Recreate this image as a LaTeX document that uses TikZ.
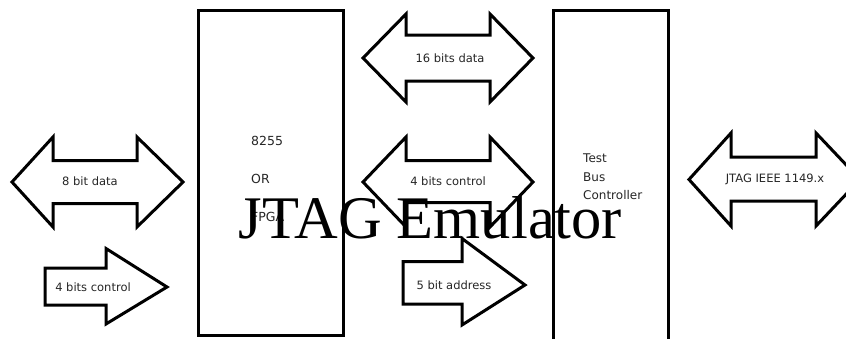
\documentclass[tikz,border=0pt]{standalone}
\usepackage{fontspec}
\setmainfont{DejaVu Sans}
\newfontfamily\bigserif{Liberation Serif}
\begin{document}
\begin{tikzpicture}[x=1pt,y=-1pt,
  box/.style={draw=black,line width=3pt},
  blockarrow/.style={draw=black,line width=3pt,line join=miter,fill=white},
  lbl/.style={inner sep=0pt,text=black!85,font=\fontsize{11.5}{14}\selectfont},
  boxtxt/.style={inner sep=0pt,anchor=west,text=black!85,font=\fontsize{12.5}{15}\selectfont},
  bigtxt/.style={inner sep=0pt,anchor=base,text=black,font=\bigserif\fontsize{60.5}{61}\selectfont}]
\useasboundingbox (0,0) rectangle (846,338);
\clip (0,0) rectangle (846,338);
\fill[white] (0,0) rectangle (846,338);
% boxes
\draw[box] (198.5,10) rectangle (343.5,335);
\draw[box] (553.3,345) -- (553.3,10) -- (668.7,10) -- (668.7,345);
% double arrows
\draw[blockarrow] (12,182) -- (53,137) -- (53,160.5) -- (137,160.5) -- (137,137) -- (183,182) -- (137,227) -- (137,203.5) -- (53,203.5) -- (53,227) -- cycle;
\draw[blockarrow] (363,58) -- (406,14) -- (406,35) -- (490,35) -- (490,14) -- (533,58) -- (490,102) -- (490,81) -- (406,81) -- (406,102) -- cycle;
\draw[blockarrow] (363,182) -- (406,137) -- (406,160.5) -- (490,160.5) -- (490,137) -- (533,182) -- (490,227) -- (490,202.5) -- (406,202.5) -- (406,227) -- cycle;
\draw[blockarrow] (689,179.5) -- (731,133) -- (731,157) -- (816,157) -- (816,133) -- (860,179.5) -- (816,226) -- (816,201) -- (731,201) -- (731,226) -- cycle;
% single arrows
\draw[blockarrow] (45,268) -- (106,268) -- (106,248.5) -- (167,287) -- (106,324) -- (106,305) -- (45,305) -- cycle;
\draw[blockarrow] (403,261.5) -- (462,261.5) -- (462,238.5) -- (525,285) -- (462,325) -- (462,304) -- (403,304) -- cycle;
% labels
\node[lbl] (l8) at (90,181) {8 bit data};
\node[lbl] (l16) at (450,58) {16 bits data};
\node[lbl] (l4m) at (448,181) {4 bits control};
\node[lbl] (l4l) at (93,287) {4 bits control};
\node[lbl] (l5) at (454,285) {5 bit address};
\node[lbl] (ljtag) at (775,179) {JTAG IEEE 1149.x};
\node[boxtxt] (t8255) at (251,141) {8255};
\node[boxtxt] (tor) at (251,179) {OR};
\node[boxtxt] (tfpga) at (251,217) {FPGA};
\node[boxtxt,font=\fontsize{12}{14}\selectfont] (ttest) at (583,158) {Test};
\node[boxtxt,font=\fontsize{12}{14}\selectfont] (tbus) at (583,177) {Bus};
\node[boxtxt,font=\fontsize{12}{14}\selectfont] (tctrl) at (583,195) {Controller};
\node[bigtxt] (title) at (430.5,238) {JTAG Emulator};
\end{tikzpicture}
\end{document}
